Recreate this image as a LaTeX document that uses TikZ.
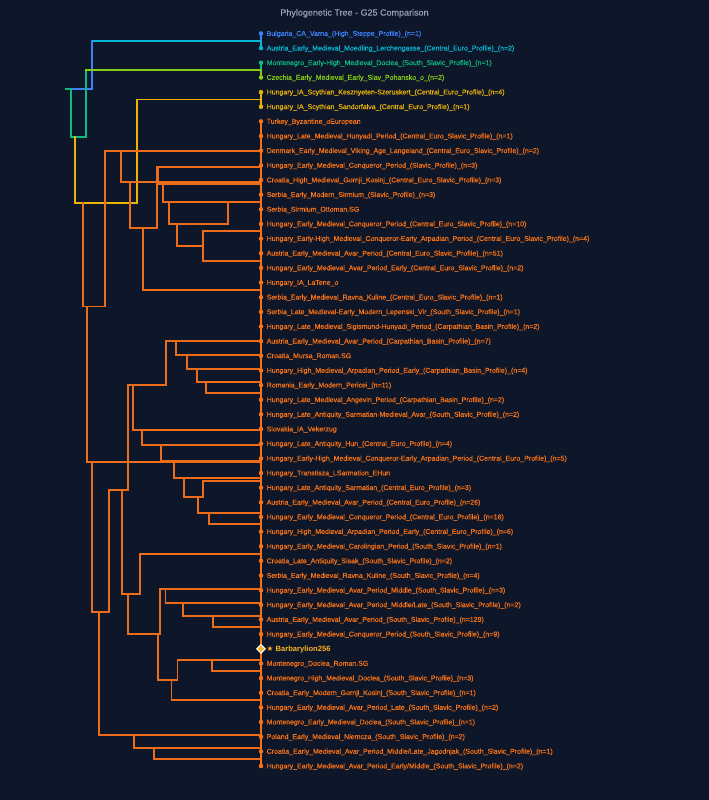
\documentclass[tikz,border=0pt]{standalone}
\usepackage{fontspec}
\setmainfont{Liberation Sans}
\newfontfamily\labfont[FakeBold=0.35]{Liberation Sans}
\newfontfamily\symfont{DejaVu Sans}
\usetikzlibrary{shapes.geometric}
\definecolor{bg}{RGB}{14,22,41}
\definecolor{ctitle}{RGB}{150,160,180}
\definecolor{cblue}{RGB}{59,130,246}
\definecolor{ccyan}{RGB}{6,182,212}
\definecolor{cteal}{RGB}{16,185,129}
\definecolor{clime}{RGB}{132,204,22}
\definecolor{cyel}{RGB}{234,179,8}
\definecolor{corg}{RGB}{249,115,22}
\definecolor{clink}{RGB}{236,108,26}
\definecolor{cgold}{RGB}{251,178,36}
\tikzset{
  link/.style={line width=1.65pt, line cap=rect, line join=miter, draw=clink},
  dot/.style={circle, inner sep=0pt, minimum size=4.2pt, draw=none},
  lab/.style={anchor=west, inner sep=0pt, text height=4.7pt, text depth=0pt,
              font=\labfont\fontsize{7}{8}\selectfont},
  me/.style={diamond, inner sep=0pt, minimum size=9pt, fill=cgold, draw=white, line width=1.1pt},
}
\newcommand\leafrow[3]{%
  \pgfmathsetmacro\yy{33.5+(#1-1)*14.65}%
  \node[dot, fill=#2] (d#1) at (261,\yy) {};
  \node[lab, text=#2] (t#1) at (266.5,\yy) {#3};
}
\begin{document}
\begin{tikzpicture}[x=1pt,y=-1pt]
\path[fill=bg] (0,0) rectangle (709,800);
\node[font=\labfont\fontsize{9}{10}\selectfont, text=ctitle] (title) at (354.5,13.3) {Phylogenetic Tree - G25 Comparison};

% ---- top coloured links
\draw[link,draw=ccyan] (261,41) -- (92.3,41);
\draw[link,draw=cblue] (92.3,41) -- (92.3,88.7) -- (70.7,88.7);
\draw[link,draw=cteal] (66,88.7) -- (70.7,88.7) -- (70.7,136.7) -- (85.7,136.7) -- (85.7,70.1);
\draw[link,draw=clime] (85.7,70.1) -- (261,70.1);
\draw[link,draw=cyel] (261,99.4) -- (137.3,99.4) -- (137.3,203.3) -- (74.7,203.3) -- (74.7,136.7);

% ---- orange links
\draw[link] (82.7,203.3) -- (82.7,306.5) -- (105,306.5) -- (105,150.9) -- (261,150.9);
\draw[link] (121.3,150.9) -- (121.3,182.3) -- (261,182.3);
\draw[link] (130.3,182.3) -- (130.3,228.3) -- (156.7,228.3) -- (156.7,166.7) -- (261,166.7);
\draw[link] (158.3,166.7) -- (158.3,183.8) -- (261,183.8);
\draw[link] (162.7,183.8) -- (162.7,202) -- (261,202);
\draw[link] (169.3,202) -- (169.3,224) -- (228.3,224) -- (228.3,202);
\draw[link] (177.3,224) -- (177.3,246) -- (203.3,246);
\draw[link] (261,231) -- (203.3,231) -- (203.3,260.7) -- (261,260.7);
\draw[link] (143.3,228.3) -- (143.3,290) -- (261,290);
\draw[link] (86.7,306.5) -- (86.7,462) -- (261,462);
\draw[link] (127.7,385.2) -- (165.7,385.2) -- (165.7,340.7) -- (261,340.7);
\draw[link] (175.7,340.7) -- (175.7,355.2) -- (261,355.2);
\draw[link] (187.3,355.2) -- (187.3,369.2) -- (261,369.2);
\draw[link] (197.3,369.2) -- (197.3,381.7) -- (261,381.7);
\draw[link] (205.7,381.7) -- (205.7,392.7) -- (261,392.7);
\draw[link] (133.3,385.2) -- (133.3,430) -- (261,430);
\draw[link] (141.7,430) -- (141.7,445) -- (261,445);
\draw[link] (161,445) -- (161,460.8) -- (261,460.8);
\draw[link] (127.7,385.2) -- (127.7,490) -- (109,490) -- (109,612.3) -- (91.7,612.3) -- (91.7,462);
\draw[link] (174.3,462) -- (174.3,478) -- (261,478);
\draw[link] (184.3,478) -- (184.3,497) -- (202.7,497) -- (202.7,481) -- (261,481);
\draw[link] (197.7,497) -- (197.7,513.3) -- (261,513.3);
\draw[link] (209,513.3) -- (209,524.3) -- (261,524.3);
\draw[link] (122.3,490) -- (122.3,594.3) -- (140,594.3) -- (140,554) -- (261,554);
\draw[link] (127.7,594.3) -- (127.7,634.3) -- (160,634.3) -- (160,589.3) -- (261,589.3);
\draw[link] (165.5,589.3) -- (165.5,603.3) -- (261,603.3);
\draw[link] (182.7,603.3) -- (182.7,615.7) -- (261,615.7);
\draw[link] (213.3,615.7) -- (213.3,626.7) -- (261,626.7);
\draw[link] (157.7,634.3) -- (157.7,680) -- (177.5,680) -- (177.5,660) -- (261,660);
\draw[link] (211.7,660) -- (211.7,671) -- (261,671);
\draw[link] (171.5,680) -- (171.5,700) -- (261,700);
\draw[link] (99.2,612.3) -- (99.2,735) -- (261,735);
\draw[link] (133.7,735) -- (133.7,747.7) -- (261,747.7);
\draw[link] (154,747.7) -- (154,759.3) -- (261,759.3);

% ---- leaves
\leafrow{1}{cblue}{Bulgaria\_CA\_Varna\_(High\_Steppe\_Profile)\_(n=1)}
\leafrow{2}{ccyan}{Austria\_Early\_Medieval\_Moedling\_Lerchengasse\_(Central\_Euro\_Profile)\_(n=2)}
\leafrow{3}{cteal}{Montenegro\_Early-High\_Medieval\_Doclea\_(South\_Slavic\_Profile)\_(n=1)}
\leafrow{4}{clime}{Czechia\_Early\_Medieval\_Early\_Slav\_Pohansko\_o\_(n=2)}
\leafrow{5}{cyel}{Hungary\_IA\_Scythian\_Kesznyeten-Szeruskert\_(Central\_Euro\_Profile)\_(n=4)}
\leafrow{6}{cyel}{Hungary\_IA\_Scythian\_Sandorfalva\_(Central\_Euro\_Profile)\_(n=1)}
\leafrow{7}{corg}{Turkey\_Byzantine\_oEuropean}
\leafrow{8}{corg}{Hungary\_Late\_Medieval\_Hunyadi\_Period\_(Central\_Euro\_Slavic\_Profile)\_(n=1)}
\leafrow{9}{corg}{Denmark\_Early\_Medieval\_Viking\_Age\_Langeland\_(Central\_Euro\_Slavic\_Profile)\_(n=2)}
\leafrow{10}{corg}{Hungary\_Early\_Medieval\_Conqueror\_Period\_(Slavic\_Profile)\_(n=3)}
\leafrow{11}{corg}{Croatia\_High\_Medieval\_Gornji\_Kosinj\_(Central\_Euro\_Slavic\_Profile)\_(n=3)}
\leafrow{12}{corg}{Serbia\_Early\_Modern\_Sirmium\_(Slavic\_Profile)\_(n=3)}
\leafrow{13}{corg}{Serbia\_Sirmium\_Ottoman.SG}
\leafrow{14}{corg}{Hungary\_Early\_Medieval\_Conqueror\_Period\_(Central\_Euro\_Slavic\_Profile)\_(n=10)}
\leafrow{15}{corg}{Hungary\_Early-High\_Medieval\_Conqueror-Early\_Arpadian\_Period\_(Central\_Euro\_Slavic\_Profile)\_(n=4)}
\leafrow{16}{corg}{Austria\_Early\_Medieval\_Avar\_Period\_(Central\_Euro\_Slavic\_Profile)\_(n=51)}
\leafrow{17}{corg}{Hungary\_Early\_Medieval\_Avar\_Period\_Early\_(Central\_Euro\_Slavic\_Profile)\_(n=2)}
\leafrow{18}{corg}{Hungary\_IA\_LaTene\_o}
\leafrow{19}{corg}{Serbia\_Early\_Medieval\_Ravna\_Kuline\_(Central\_Euro\_Slavic\_Profile)\_(n=1)}
\leafrow{20}{corg}{Serbia\_Late\_Medieval-Early\_Modern\_Lepenski\_Vir\_(South\_Slavic\_Profile)\_(n=1)}
\leafrow{21}{corg}{Hungary\_Late\_Medieval\_Sigismund-Hunyadi\_Period\_(Carpathian\_Basin\_Profile)\_(n=2)}
\leafrow{22}{corg}{Austria\_Early\_Medieval\_Avar\_Period\_(Carpathian\_Basin\_Profile)\_(n=7)}
\leafrow{23}{corg}{Croatia\_Mursa\_Roman.SG}
\leafrow{24}{corg}{Hungary\_High\_Medieval\_Arpadian\_Period\_Early\_(Carpathian\_Basin\_Profile)\_(n=4)}
\leafrow{25}{corg}{Romania\_Early\_Modern\_Pericei\_(n=11)}
\leafrow{26}{corg}{Hungary\_Late\_Medieval\_Angevin\_Period\_(Carpathian\_Basin\_Profile)\_(n=2)}
\leafrow{27}{corg}{Hungary\_Late\_Antiquity\_Sarmatian-Medieval\_Avar\_(South\_Slavic\_Profile)\_(n=2)}
\leafrow{28}{corg}{Slovakia\_IA\_Vekerzug}
\leafrow{29}{corg}{Hungary\_Late\_Antiquity\_Hun\_(Central\_Euro\_Profile)\_(n=4)}
\leafrow{30}{corg}{Hungary\_Early-High\_Medieval\_Conqueror-Early\_Arpadian\_Period\_(Central\_Euro\_Profile)\_(n=5)}
\leafrow{31}{corg}{Hungary\_Transtisza\_LSarmation\_EHun}
\leafrow{32}{corg}{Hungary\_Late\_Antiquity\_Sarmatian\_(Central\_Euro\_Profile)\_(n=3)}
\leafrow{33}{corg}{Austria\_Early\_Medieval\_Avar\_Period\_(Central\_Euro\_Profile)\_(n=26)}
\leafrow{34}{corg}{Hungary\_Early\_Medieval\_Conqueror\_Period\_(Central\_Euro\_Profile)\_(n=16)}
\leafrow{35}{corg}{Hungary\_High\_Medieval\_Arpadian\_Period\_Early\_(Central\_Euro\_Profile)\_(n=6)}
\leafrow{36}{corg}{Hungary\_Early\_Medieval\_Carolingian\_Period\_(South\_Slavic\_Profile)\_(n=1)}
\leafrow{37}{corg}{Croatia\_Late\_Antiquity\_Sisak\_(South\_Slavic\_Profile)\_(n=2)}
\leafrow{38}{corg}{Serbia\_Early\_Medieval\_Ravna\_Kuline\_(South\_Slavic\_Profile)\_(n=4)}
\leafrow{39}{corg}{Hungary\_Early\_Medieval\_Avar\_Period\_Middle\_(South\_Slavic\_Profile)\_(n=3)}
\leafrow{40}{corg}{Hungary\_Early\_Medieval\_Avar\_Period\_Middle/Late\_(South\_Slavic\_Profile)\_(n=2)}
\leafrow{41}{corg}{Austria\_Early\_Medieval\_Avar\_Period\_(South\_Slavic\_Profile)\_(n=129)}
\leafrow{42}{corg}{Hungary\_Early\_Medieval\_Conqueror\_Period\_(South\_Slavic\_Profile)\_(n=9)}
\leafrow{44}{corg}{Montenegro\_Doclea\_Roman.SG}
\leafrow{45}{corg}{Montenegro\_High\_Medieval\_Doclea\_(South\_Slavic\_Profile)\_(n=3)}
\leafrow{46}{corg}{Croatia\_Early\_Modern\_Gornji\_Kosinj\_(South\_Slavic\_Profile)\_(n=1)}
\leafrow{47}{corg}{Hungary\_Early\_Medieval\_Avar\_Period\_Late\_(South\_Slavic\_Profile)\_(n=2)}
\leafrow{48}{corg}{Montenegro\_Early\_Medieval\_Doclea\_(South\_Slavic\_Profile)\_(n=1)}
\leafrow{49}{corg}{Poland\_Early\_Medieval\_Niemcza\_(South\_Slavic\_Profile)\_(n=2)}
\leafrow{50}{corg}{Croatia\_Early\_Medieval\_Avar\_Period\_Middle/Late\_Jagodnjak\_(South\_Slavic\_Profile)\_(n=1)}
\leafrow{51}{corg}{Hungary\_Early\_Medieval\_Avar\_Period\_Early/Middle\_(South\_Slavic\_Profile)\_(n=2)}

% user sample
\pgfmathsetmacro\yme{33.5+42*14.65}
\coordinate (d43) at (261,\yme);

% leaf line
\draw[link,draw=cblue] (d1.center) -- (261,41);
\draw[link,draw=ccyan] (261,41) -- (d2.center);
\draw[link,draw=cteal] (d3.center) -- (261,70.1);
\draw[link,draw=clime] (261,70.1) -- (d4.center);
\draw[link,draw=cyel] (d5.center) -- (d6.center);
\draw[link,draw=corg] (d7.center) -- (d51.center);
\foreach \i/\c in {1/cblue,2/ccyan,3/cteal,4/clime,5/cyel,6/cyel}
  \fill[\c] (d\i) circle (2.2pt);
\foreach \i in {7,...,42,44,45,...,51}
  \fill[corg] (d\i) circle (2.2pt);
\node[me] (m43) at (d43) {};
\node[lab, text=cgold, font=\fontsize{7.6}{9}\selectfont\bfseries] (t43) at (266.5,\yme) {{\symfont ★} Barbarylion256};
\end{tikzpicture}
\end{document}
